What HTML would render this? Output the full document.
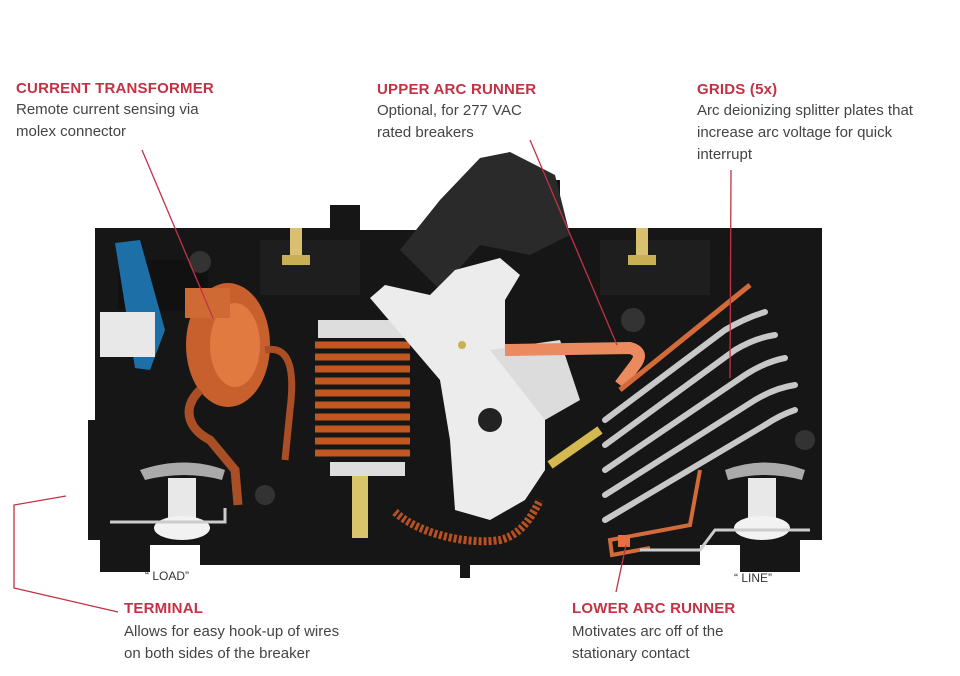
<!DOCTYPE html>
<html><head><meta charset="utf-8"><style>
html,body{margin:0;padding:0;background:#fff;}
body{width:960px;height:676px;position:relative;overflow:hidden;font-family:"Liberation Sans",sans-serif;}
.t{position:absolute;color:#c23244;font-weight:bold;font-size:15px;letter-spacing:0.2px;}
.d{position:absolute;color:#444;font-size:15px;line-height:22px;}
svg{position:absolute;left:0;top:0;}
</style></head><body>
<svg width="960" height="676" viewBox="0 0 960 676">
 <path d="M95,228 H330 V205 H360 V230 H420 L470,180 H560 V228 H822 V540 H800 V572 H740 V545 H700 V565 H470 V578 H460 V565 H200 V545 H150 V572 H100 V540 H88 V420 H95 Z" fill="#161616"/>
 <path d="M440,200 L480,158 L510,152 L555,175 L570,235 L530,255 L480,245 L440,290 L400,250 Z" fill="#2a2a2a"/>
 <rect x="260" y="240" width="100" height="55" fill="#1e1e1e"/>
 <rect x="600" y="240" width="110" height="55" fill="#1e1e1e"/>
 <rect x="118" y="260" width="90" height="50" fill="#111"/>
 <rect x="290" y="228" width="12" height="30" fill="#d8c070"/><rect x="282" y="255" width="28" height="10" fill="#c9ae55"/>
 <rect x="636" y="228" width="12" height="30" fill="#d8c070"/><rect x="628" y="255" width="28" height="10" fill="#c9ae55"/>
 <path d="M115,243 L140,240 L165,330 L150,370 L135,368 Z" fill="#1d6fa8"/>
 <rect x="100" y="312" width="55" height="45" fill="#e8e8e8"/>
 <ellipse cx="228" cy="345" rx="42" ry="62" fill="#c8602e"/>
 <ellipse cx="235" cy="345" rx="25" ry="42" fill="#e07a40"/>
 <rect x="185" y="288" width="45" height="30" fill="#d06a35"/>
 <path d="M200,390 C180,410 190,430 210,440 L235,470 L238,505" stroke="#a94e25" stroke-width="9" fill="none"/>
 <path d="M265,350 C290,345 295,370 290,410 L285,460" stroke="#a94e25" stroke-width="7" fill="none"/>
 <rect x="318" y="320" width="95" height="18" fill="#ddd"/>
 <g stroke="#c2571f" stroke-width="7">
  <line x1="315" y1="345" x2="410" y2="345"/><line x1="315" y1="357" x2="410" y2="357"/><line x1="315" y1="369" x2="410" y2="369"/><line x1="315" y1="381" x2="410" y2="381"/><line x1="315" y1="393" x2="410" y2="393"/><line x1="315" y1="405" x2="410" y2="405"/><line x1="315" y1="417" x2="410" y2="417"/><line x1="315" y1="429" x2="410" y2="429"/><line x1="315" y1="441" x2="410" y2="441"/><line x1="315" y1="453" x2="410" y2="453"/>
 </g>
 <rect x="330" y="462" width="75" height="14" fill="#ddd"/>
 <rect x="352" y="476" width="16" height="62" fill="#d8c46a"/>
 <path d="M395,512 C420,535 470,545 500,540 C520,535 530,520 540,500" stroke="#b85022" stroke-width="8" stroke-dasharray="3 2" fill="none"/>
 <path d="M370,298 L385,285 L430,295 L455,270 L500,258 L520,275 L505,300 L505,355 L545,420 L545,470 L525,500 L490,520 L455,510 L450,440 L440,380 Z" fill="#ececec"/>
 <path d="M490,350 L560,340 L580,400 L545,420 Z" fill="#dcdcdc"/>
 <circle cx="490" cy="420" r="12" fill="#222"/>
 <circle cx="462" cy="345" r="4" fill="#c9b050"/>
 <circle cx="265" cy="495" r="10" fill="#333"/><circle cx="633" cy="320" r="12" fill="#333"/><circle cx="200" cy="262" r="11" fill="#333"/><circle cx="805" cy="440" r="10" fill="#333"/>
 <path d="M505,350 L630,348 Q645,352 635,365 L620,385" stroke="#ea8a5e" stroke-width="12" fill="none" stroke-linejoin="round"/>
 <path d="M620,390 L750,285" stroke="#d26a3a" stroke-width="5" fill="none"/>
 <g stroke="#c8c8c8" stroke-width="6" fill="none" stroke-linecap="round">
  <path d="M605,420 L725,330 Q745,318 765,312"/>
  <path d="M605,445 L735,350 Q755,338 775,335"/>
  <path d="M605,470 L745,375 Q765,362 785,358"/>
  <path d="M605,495 L755,400 Q775,388 795,385"/>
  <path d="M605,520 L765,425 Q780,415 795,410"/>
 </g>
 <path d="M550,465 L600,430" stroke="#d4b850" stroke-width="9"/>
 <path d="M700,470 L690,525 L610,540 L612,555 L650,548" stroke="#d26a3a" stroke-width="4" fill="none"/>
 <rect x="618" y="535" width="12" height="12" fill="#e87040"/>
 <path d="M140,470 Q185,455 225,470 L222,480 Q185,470 145,480 Z" fill="#aaa"/>
 <rect x="168" y="478" width="28" height="45" fill="#e8e8e8"/><ellipse cx="182" cy="528" rx="28" ry="12" fill="#f2f2f2"/>
 <path d="M725,470 Q765,455 805,470 L802,480 Q765,470 728,480 Z" fill="#aaa"/>
 <rect x="748" y="478" width="28" height="45" fill="#e8e8e8"/><ellipse cx="762" cy="528" rx="28" ry="12" fill="#f2f2f2"/>
 <path d="M110,522 H225 V508" stroke="#ccc" stroke-width="3" fill="none"/>
 <path d="M640,550 H700 L715,530 H810" stroke="#ccc" stroke-width="3" fill="none"/>
 <g stroke="#c23244" stroke-width="1.3" fill="none">
  <line x1="142" y1="150" x2="213" y2="318"/>
  <line x1="530" y1="140" x2="617" y2="345"/>
  <line x1="731" y1="170" x2="730" y2="378"/>
  <line x1="626" y1="545" x2="616" y2="592"/>
  <path d="M66,496 L14,505 V588 L118,612"/>
 </g>
 <text x="145" y="580" font-family="Liberation Sans, sans-serif" font-size="12" fill="#333">“ LOAD”</text>
 <text x="734" y="582" font-family="Liberation Sans, sans-serif" font-size="12" fill="#333">“ LINE”</text>
</svg>
<div class="t" style="left:16px;top:80px">CURRENT TRANSFORMER</div>
<div class="d" style="left:16px;top:99px">Remote current sensing via<br>molex connector</div>
<div class="t" style="left:377px;top:81px">UPPER ARC RUNNER</div>
<div class="d" style="left:377px;top:100px">Optional, for 277 VAC<br>rated breakers</div>
<div class="t" style="left:697px;top:81px">GRIDS (5x)</div>
<div class="d" style="left:697px;top:100px">Arc deionizing splitter plates that<br>increase arc voltage for quick<br>interrupt</div>
<div class="t" style="left:124px;top:600px">TERMINAL</div>
<div class="d" style="left:124px;top:621px">Allows for easy hook-up of wires<br>on both sides of the breaker</div>
<div class="t" style="left:572px;top:600px">LOWER ARC RUNNER</div>
<div class="d" style="left:572px;top:621px">Motivates arc off of the<br>stationary contact</div>
</body></html>
